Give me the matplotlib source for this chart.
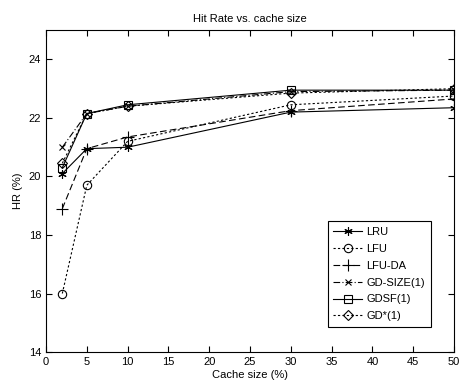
import matplotlib.pyplot as plt
import numpy as np

plt.rcParams["font.family"] = ["Liberation Sans", "DejaVu Sans"]
plt.rcParams["font.size"] = 8

cache_size = [2, 5, 10, 30, 50]

lru = [20.1, 20.95, 21.0, 22.2, 22.35]
lfu = [16.0, 19.7, 21.2, 22.45, 22.75]
lfu_da = [18.9, 20.95, 21.35, 22.25, 22.65]
gd_size = [21.0, 22.15, 22.4, 22.9, 22.95]
gdsf = [20.3, 22.15, 22.45, 22.95, 22.95]
gd_star = [20.45, 22.15, 22.4, 22.85, 23.0]

series_names = ["LRU", "LFU", "LFU-DA", "GD-SIZE(1)", "GDSF(1)", "GD*(1)"]

fig = plt.figure(figsize=(4.6, 3.92), dpi=100)
ax = fig.add_axes([0.1, 0.102, 0.887, 0.821])

styles = [
    dict(linestyle="-", marker=(6, 2, 0), markersize=6),
    dict(linestyle=(0, (2, 2)), marker="o", markersize=6, markerfacecolor="none"),
    dict(linestyle=(0, (6, 3)), marker="+", markersize=8),
    dict(linestyle=(0, (6, 2, 1, 2)), marker="x", markersize=5),
    dict(linestyle="-", marker="s", markersize=6, markerfacecolor="none"),
    dict(linestyle=(0, (2, 2)), marker="D", markersize=5, markerfacecolor="none"),
]

all_series = [lru, lfu, lfu_da, gd_size, gdsf, gd_star]
for values, name, st in zip(all_series, series_names, styles):
    ax.plot(cache_size, values, color="black", linewidth=0.8,
            markeredgewidth=0.8, label=name, **st)

ax.set_xlim(0, 50)
ax.set_ylim(14, 25)
ax.set_xticks(np.arange(0, 51, 5))
ax.set_yticks(np.arange(14, 25, 2))
ax.tick_params(direction="in", top=True, right=True, length=4, width=0.8)
for sp in ax.spines.values():
    sp.set_linewidth(0.8)

ax.set_title("Hit Rate vs. cache size", fontsize=8)
ax.set_xlabel("Cache size (%)", labelpad=2)
ax.set_ylabel("HR (%)", labelpad=4)

leg = ax.legend(loc="lower left", bbox_to_anchor=(0.69, 0.078),
                fancybox=False, edgecolor="black", framealpha=1,
                handlelength=2.6, labelspacing=0.62, borderpad=0.5,
                handletextpad=0.4, borderaxespad=0, fontsize=8)
leg.get_frame().set_linewidth(0.8)

fig.savefig("out.png", dpi=100)
